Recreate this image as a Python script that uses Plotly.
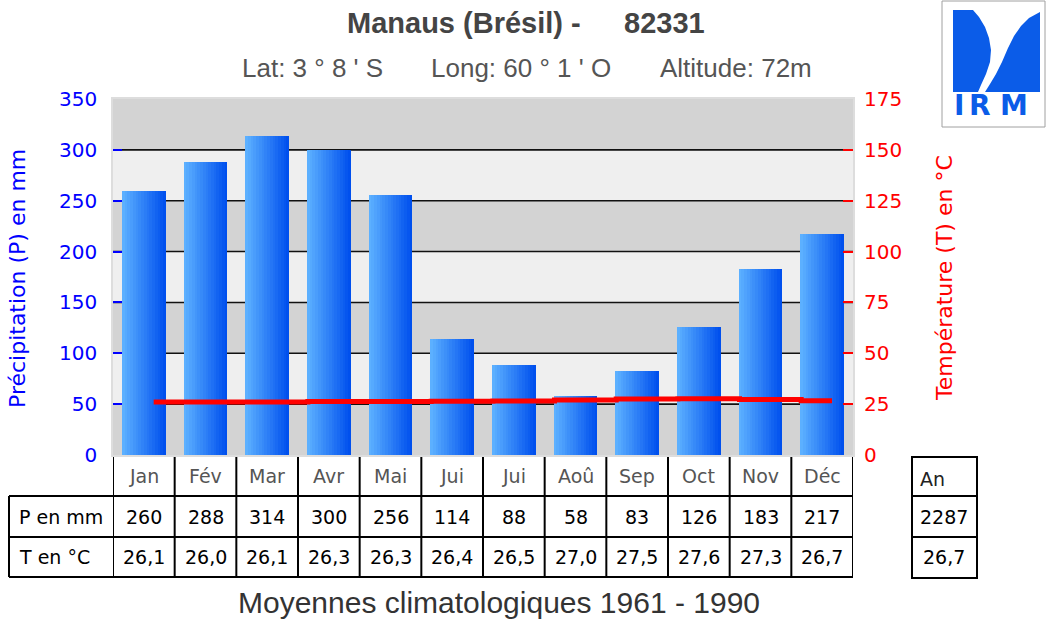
import plotly.graph_objects as go

# ---------------- data ----------------
months = ["Jan", "Fév", "Mar", "Avr", "Mai", "Jui", "Jui", "Aoû", "Sep", "Oct", "Nov", "Déc"]
precip = [260, 288, 314, 300, 256, 114, 88, 58, 83, 126, 183, 217]
temp = [26.1, 26.0, 26.1, 26.3, 26.3, 26.4, 26.5, 27.0, 27.5, 27.6, 27.3, 26.7]
annual_p = 2287
annual_t = 26.7
p_ticks = [0, 50, 100, 150, 200, 250, 300, 350]
t_ticks = [0, 25, 50, 75, 100, 125, 150, 175]

title = "Manaus (Brésil) -"
station = "82331"
sub_lat = "Lat: 3 ° 8 ' S"
sub_long = "Long: 60 ° 1 ' O"
sub_alt = "Altitude: 72m"
caption = "Moyennes climatologiques 1961 - 1990"

# ---------------- geometry helpers ----------------
W, H = 1051, 619
PL, PR, PT, PB = 113, 853, 99, 455


def px(x):
    return (x - PL) / (PR - PL)


def py(y):
    return (PB - y) / (PB - PT)


def fmt(v):
    return f"{v:.1f}".replace(".", ",")


xpos = list(range(len(months)))

fig = go.Figure()

# gradient bars built from vertical strips
N = 16
bar_w = 0.713
sw = bar_w / N
c0 = (92, 176, 255)
c1 = (0, 80, 238)
for k in range(N):
    t = k / (N - 1)
    col = "rgb(%d,%d,%d)" % tuple(round(a + (b - a) * t) for a, b in zip(c0, c1))
    fig.add_trace(go.Bar(
        x=xpos, y=precip,
        width=sw * 1.4 if k < N - 1 else sw,
        offset=-bar_w / 2 + k * sw,
        marker=dict(color=col, line=dict(width=0)),
        showlegend=False, hoverinfo="skip", yaxis="y",
    ))

# temperature step line
fig.add_trace(go.Scatter(
    x=[i + 0.16 for i in xpos], y=temp, mode="lines",
    line=dict(color="#ff0000", width=5, shape="hvh"),
    yaxis="y2", showlegend=False, hoverinfo="skip",
))

shapes = []
# background bands
for lo in [0, 100, 200, 300]:
    shapes.append(dict(type="rect", xref="paper", yref="y", x0=0, x1=1, y0=lo, y1=lo + 50,
                       fillcolor="#d3d3d3", line=dict(width=0), layer="below"))
# grid lines
for v in p_ticks[1:-1]:
    shapes.append(dict(type="line", xref="paper", yref="y", x0=0, x1=1, y0=v, y1=v,
                       line=dict(color="#111111", width=1.6), layer="below"))

# table lines
BL = dict(color="black", width=2)
for b in range(len(months) + 1):
    shapes.append(dict(type="line", xref="x", yref="paper", x0=b - 0.5, x1=b - 0.5,
                       y0=py(457), y1=py(577), line=BL))
shapes.append(dict(type="line", xref="paper", yref="paper", x0=px(9), x1=px(9),
                   y0=py(496), y1=py(577), line=BL))
for yy in [496, 537, 577]:
    shapes.append(dict(type="line", xref="paper", yref="paper", x0=px(9), x1=1,
                       y0=py(yy), y1=py(yy), line=BL))
# annual box
shapes.append(dict(type="rect", xref="paper", yref="paper", x0=px(912), x1=px(977),
                   y0=py(457), y1=py(578), line=BL))
for yy in [496, 537]:
    shapes.append(dict(type="line", xref="paper", yref="paper", x0=px(912), x1=px(977),
                       y0=py(yy), y1=py(yy), line=BL))

# logo
shapes.append(dict(type="rect", xref="paper", yref="paper", x0=px(942), x1=px(1045),
                   y0=py(1), y1=py(127), line=dict(color="#a0a0a0", width=1), fillcolor="white"))


def path(pts):
    return "M " + " L ".join(f"{px(a):.5f},{py(b):.5f}" for a, b in pts) + " Z"


logo_blue = "#0b5ce8"
left_shape = [(953, 10), (973, 10), (979, 17), (985, 27), (989, 38), (991, 50), (990, 62),
              (986, 74), (981, 85), (978, 92), (953, 92)]
right_shape = [(985, 92), (990, 84), (996, 74), (1002, 62), (1008, 48), (1014, 36),
               (1021, 26), (1029, 18), (1040, 12), (1040, 92)]
for pts in (left_shape, right_shape):
    shapes.append(dict(type="path", xref="paper", yref="paper", path=path(pts),
                       fillcolor=logo_blue, line=dict(width=0)))

ann = []
TF = "DejaVu Sans"
AF = "Liberation Sans"


def A(x, y, text, xref="paper", xanchor="center", size=19, color="black", family=TF, angle=0):
    ann.append(dict(x=x, y=y, xref=xref, yref="paper", text=text, showarrow=False,
                    xanchor=xanchor, yanchor="middle", textangle=angle,
                    font=dict(family=family, size=size, color=color)))


# table texts
for i, m in enumerate(months):
    A(i, py(476), m, xref="x", color="#555555")
    A(i, py(517), str(precip[i]), xref="x")
    A(i, py(557), fmt(temp[i]), xref="x")
A(px(17), py(517), "P en mm", xanchor="left")
A(px(17), py(557), "T en °C", xanchor="left")
A(px(918), py(479), "An", xanchor="left", color="#222222")
A(px(944.5), py(517), str(annual_p))
A(px(944.5), py(557), fmt(annual_t))

# axis titles
A(px(17), py(279), "Précipitation (P) en mm", size=22, color="#0000ff", angle=-90)
A(px(944), py(278), "Température (T) en °C", size=22, color="#ff0000", angle=-90)

# titles
A(px(345), py(23), "<b>" + title + "</b>", xanchor="left", size=29, color="#444444", family=AF)
A(px(707), py(23), "<b>" + station + "</b>", xanchor="right", size=29, color="#444444", family=AF)
A(px(312), py(68), sub_lat, size=26, color="#555555", family=AF)
A(px(521), py(68), sub_long, size=26, color="#555555", family=AF)
A(px(736), py(68), sub_alt, size=26, color="#555555", family=AF)
A(px(499), py(602), caption, size=30, color="#333333", family=AF)

# logo letters
for letter, cx in [("I", 959), ("R", 980), ("M", 1014)]:
    A(px(cx), py(105), "<b>" + letter + "</b>", size=28, color=logo_blue, family="DejaVu Sans")

fig.update_layout(
    width=W, height=H, autosize=False,
    margin=dict(l=PL, r=W - PR, t=PT, b=H - PB, pad=0),
    paper_bgcolor="white", plot_bgcolor="#efefef",
    barmode="overlay", bargap=0, showlegend=False,
    shapes=shapes, annotations=ann,
    xaxis=dict(range=[-0.5, len(months) - 0.5], showticklabels=False, showgrid=False,
               zeroline=False, showline=True, linecolor="#dddddd", linewidth=1.5, mirror=True,
               fixedrange=True),
    yaxis=dict(range=[0, 350], tickvals=p_ticks, showgrid=False, zeroline=False,
               ticks="inside", ticklen=9, tickwidth=2, tickcolor="#0000ff",
               tickfont=dict(family=TF, size=20, color="#0000ff"),
               ticklabelstandoff=10,
               showline=True, linecolor="#dddddd", linewidth=1.5, mirror=True),
    yaxis2=dict(range=[0, 175], tickvals=t_ticks, overlaying="y", side="right",
                showgrid=False, zeroline=False, ticks="inside", ticklen=10, tickwidth=2,
                tickcolor="#ff0000", tickfont=dict(family=TF, size=20, color="#ff0000"),
                ticklabelstandoff=10, showline=False),
)

fig.write_html("out.html", config={"displayModeBar": False},
               post_script="document.body.style.margin='0px';")
